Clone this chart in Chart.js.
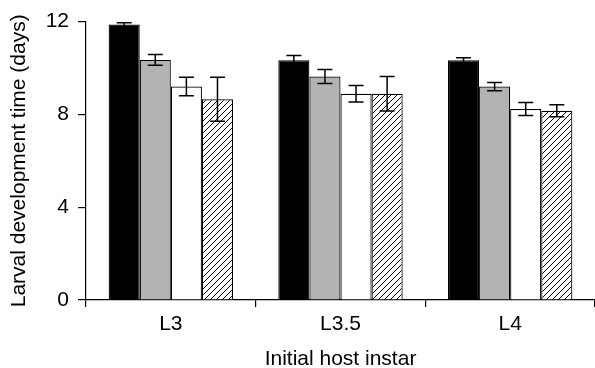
<!DOCTYPE html>
<html>
<head>
<meta charset="utf-8">
<script src="https://cdn.jsdelivr.net/npm/chart.js@4"></script>
<style>
  html, body { margin: 0; padding: 0; background: #fff; }
  #wrap { width: 595px; height: 368px; }
</style>
</head>
<body>
<div id="wrap"><canvas id="chart" width="595" height="368"></canvas></div>
<script>
// categories (initial host instar)
const instars = ['L3', 'L3.5', 'L4'];
// mean larval development time (days) for the four treatments
const seriesBlack = [11.87, 10.33, 10.33];
const seriesGray = [10.35, 9.63, 9.2];
const seriesWhite = [9.2, 8.89, 8.23];
const seriesHatch = [8.65, 8.89, 8.16];
// error bar half-widths
const errBlack = [0.08, 0.21, 0.11];
const errGray = [0.23, 0.3, 0.18];
const errWhite = [0.4, 0.36, 0.28];
const errHatch = [0.95, 0.74, 0.26];
const yTicks = [0, 4, 8, 12];

// diagonal hatch pattern
function hatchPattern() {
  const c = document.createElement('canvas');
  c.width = 6; c.height = 6;
  const g = c.getContext('2d');
  g.fillStyle = '#fff';
  g.fillRect(0, 0, 6, 6);
  g.strokeStyle = '#000';
  g.lineWidth = 1;
  g.beginPath();
  g.moveTo(0, 6); g.lineTo(6, 0);
  g.moveTo(-1, 1); g.lineTo(1, -1);
  g.moveTo(5, 7); g.lineTo(7, 5);
  g.stroke();
  return g.createPattern(c, 'repeat');
}

const errorBars = {
  id: 'errorBars',
  afterDatasetsDraw(chart) {
    const ctx = chart.ctx;
    const y = chart.scales.y;
    ctx.save();
    ctx.strokeStyle = '#000';
    ctx.lineWidth = 1.5;
    chart.data.datasets.forEach((ds, i) => {
      const meta = chart.getDatasetMeta(i);
      meta.data.forEach((bar, j) => {
        const v = ds.data[j], e = ds.errors[j];
        const top = y.getPixelForValue(v + e);
        const bot = y.getPixelForValue(v - e);
        const x = bar.x;
        ctx.beginPath();
        ctx.moveTo(x, top); ctx.lineTo(x, bot);
        ctx.moveTo(x - 7.5, top); ctx.lineTo(x + 7.5, top);
        ctx.moveTo(x - 7.5, bot); ctx.lineTo(x + 7.5, bot);
        ctx.stroke();
      });
    });
    ctx.restore();
  }
};

const font = { family: '"Liberation Sans", Arial, sans-serif', size: 21 };
const common = { borderColor: '#000', borderWidth: 1.2, categoryPercentage: 0.733, barPercentage: 1 };

new Chart(document.getElementById('chart').getContext('2d'), {
  type: 'bar',
  data: {
    labels: instars,
    datasets: [
      Object.assign({ data: seriesBlack, errors: errBlack, backgroundColor: '#000' }, common),
      Object.assign({ data: seriesGray, errors: errGray, backgroundColor: '#b3b3b3' }, common),
      Object.assign({ data: seriesWhite, errors: errWhite, backgroundColor: '#fff' }, common),
      Object.assign({ data: seriesHatch, errors: errHatch, backgroundColor: hatchPattern() }, common)
    ]
  },
  options: {
    responsive: false,
    animation: false,
    layout: { padding: { top: 18, right: 0, left: 0, bottom: 0 } },
    plugins: { legend: { display: false }, tooltip: { enabled: false } },
    scales: {
      y: {
        min: 0, max: 12,
        afterBuildTicks: (s) => { s.ticks = yTicks.map(v => ({ value: v })); },
        afterFit: (s) => { s.width = 86; },
        ticks: { color: '#000', font: font, padding: 9 },
        grid: { drawOnChartArea: false, tickLength: 8, color: '#000', lineWidth: 1.2 },
        border: { color: '#000', width: 1.2 },
        title: { display: true, text: 'Larval development time (days)', color: '#000', font: font, padding: { top: 7, bottom: 0 } }
      },
      x: {
        afterFit: (s) => { s.height = 68; },
        ticks: { color: '#000', font: font, padding: 5 },
        grid: { drawOnChartArea: false, tickLength: 7, color: '#000', lineWidth: 1.2 },
        border: { color: '#000', width: 1.2 },
        title: { display: true, text: 'Initial host instar', color: '#000', font: font, padding: { top: 0, bottom: -4 } }
      }
    }
  },
  plugins: [errorBars]
});
</script>
</body>
</html>
